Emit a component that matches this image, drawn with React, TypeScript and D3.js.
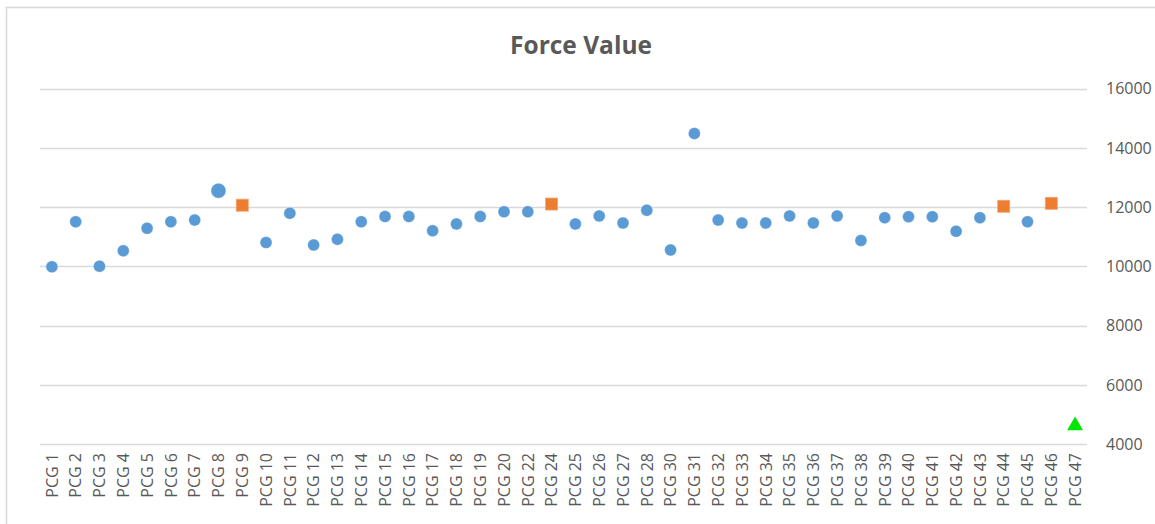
import React from 'react';
import * as d3 from 'd3';

// categories as they appear on the axis (21, 23, 29 are absent)
const categories = [
  'PCG 1', 'PCG 2', 'PCG 3', 'PCG 4', 'PCG 5', 'PCG 6', 'PCG 7', 'PCG 8', 'PCG 9', 'PCG 10',
  'PCG 11', 'PCG 12', 'PCG 13', 'PCG 14', 'PCG 15', 'PCG 16', 'PCG 17', 'PCG 18', 'PCG 19', 'PCG 20',
  'PCG 22', 'PCG 24', 'PCG 25', 'PCG 26', 'PCG 27', 'PCG 28', 'PCG 30', 'PCG 31', 'PCG 32', 'PCG 33',
  'PCG 34', 'PCG 35', 'PCG 36', 'PCG 37', 'PCG 38', 'PCG 39', 'PCG 40', 'PCG 41', 'PCG 42', 'PCG 43',
  'PCG 44', 'PCG 45', 'PCG 46', 'PCG 47',
];

// main series (null where another marker is used)
const forceValues = [
  9980, 11500, 10000, 10520, 11280, 11500, 11560, null, null, 10800,
  11790, 10720, 10910, 11500, 11680, 11680, 11200, 11430, 11680, 11840,
  11840, null, 11430, 11700, 11460, 11890, 10550, 14480, 11560, 11460,
  11460, 11700, 11460, 11700, 10870, 11640, 11670, 11670, 11180, 11640,
  null, 11500, null, null,
];

const bigCategories = ['PCG 8'];
const bigValues = [12550];

const squareCategories = ['PCG 9', 'PCG 24', 'PCG 44', 'PCG 46'];
const squareValues = [12060, 12100, 12025, 12125];

const lowCategories = ['PCG 47'];
const lowValues = [4650];

const yTicks = [4000, 6000, 8000, 10000, 12000, 14000, 16000];

const width = 1155;
const height = 524;
const plotLeft = 40;
const plotRight = 1087;
const plotTop = 88.5;
const plotBottom = 444;

const blue = '#5B9BD5';
const orange = '#ED7D31';
const green = '#00E600';
const textColor = '#595959';
const gridColor = '#D9D9D9';
const font = '"Open Sans", "Liberation Sans", sans-serif';

export default function App() {
  const x = d3.scaleBand().domain(categories).range([plotLeft, plotRight]);
  const cx = (c: string) => (x(c) as number) + x.bandwidth() / 2;
  const y = d3.scaleLinear().domain([4000, 16000]).range([plotBottom, plotTop]);

  const tri = d3.symbol().type(d3.symbolTriangle).size(110)();

  return (
    <svg width={width} height={height} style={{ position: 'absolute', left: 0, top: 0 }}>
      <rect x={0} y={0} width={width} height={height} fill="#fff" />
      <rect x={6.5} y={7.5} width={width + 20} height={height + 20} fill="none" stroke="#D9D9D9" strokeWidth={1.5} />

      <text x={581} y={54} textAnchor="middle" fontFamily={font} fontWeight="bold" fontSize={24.5} fill={textColor}>
        Force Value
      </text>

      {yTicks.map((t) => (
        <g key={t}>
          <line x1={plotLeft} x2={plotRight} y1={Math.round(y(t)) + 0.5} y2={Math.round(y(t)) + 0.5} stroke={gridColor} strokeWidth={1.3} />
          <text x={1106} y={y(t)} dy="0.36em" fontFamily={font} fontSize={16} fill={textColor}>
            {t}
          </text>
        </g>
      ))}

      {categories.map((c) => (
        <text
          key={c}
          transform={`translate(${cx(c)},${plotBottom + 9}) rotate(-90)`}
          textAnchor="end"
          dy="0.36em"
          fontFamily={font}
          fontSize={16}
          fill={textColor}
        >
          {c}
        </text>
      ))}

      {forceValues.map((v, i) =>
        v == null ? null : (
          <circle key={i} cx={cx(categories[i])} cy={y(v)} r={6} fill={blue} stroke="#fff" strokeOpacity={0.4} strokeWidth={0.8} />
        )
      )}

      {bigValues.map((v, i) => (
        <circle key={i} cx={cx(bigCategories[i])} cy={y(v)} r={7.5} fill={blue} stroke="#fff" strokeOpacity={0.4} strokeWidth={0.8} />
      ))}

      {squareValues.map((v, i) => (
        <rect key={i} x={cx(squareCategories[i]) - 6} y={y(v) - 6} width={12} height={12} fill={orange} stroke="#F4A36F" strokeWidth={0.8} />
      ))}

      {lowValues.map((v, i) => (
        <path key={i} d={tri as string} transform={`translate(${cx(lowCategories[i])},${y(v) + 1})`} fill={green} />
      ))}
    </svg>
  );
}
